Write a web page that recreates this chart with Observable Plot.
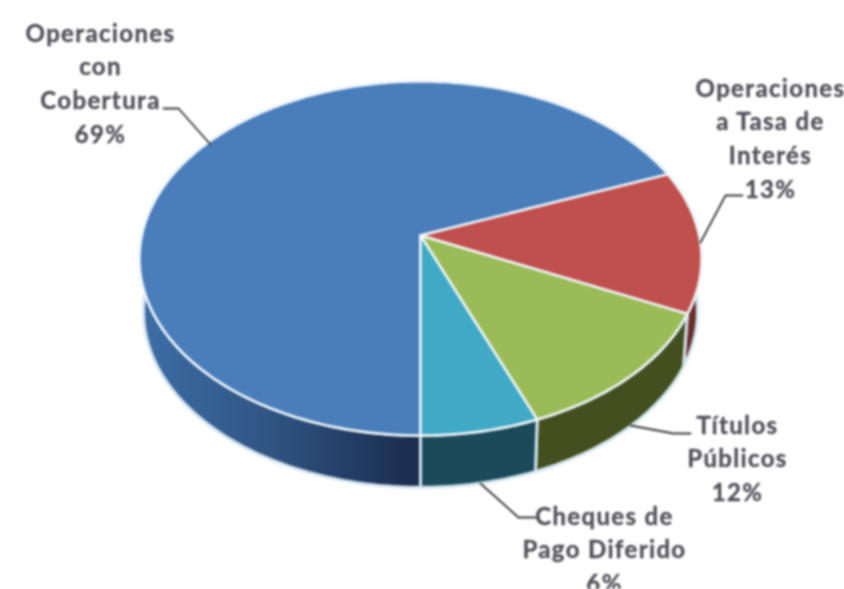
<!DOCTYPE html>
<html><head><meta charset="utf-8">
<style>html,body{margin:0;padding:0;background:#fff;overflow:hidden}
svg{display:block;filter:blur(0.8px)}
svg text{letter-spacing:1.35px;stroke:#50505a;stroke-width:0.35px}</style>
<script src="https://cdn.jsdelivr.net/npm/d3@7"></script>
<script src="https://cdn.jsdelivr.net/npm/@observablehq/plot@0.6"></script>
</head><body><script>
const categories = ["Operaciones\ncon\nCobertura", "Operaciones\na Tasa de\nInterés", "Títulos\nPúblicos", "Cheques de\nPago Diferido"];
const shares = [69, 13, 12, 6];
const topColors = ["#4a7ebb", "#c0504d", "#9bbb59", "#40a9c6"];
const sideColors = ["url(#sideBlue)", "#6b2c2a", "#434f1e", "#1b4a5a"];

// layout of the tilted disc: apex position and half extents
const k = -0.13, W = 844, H = 589;
const topDisc = {x: 420, y: 235, sx: 278.6, sy: 174};
const baseDisc = {x: 420, y: 288, sx: 274.6, sy: 173};
const project = (d, deg) => {
  const a = deg * Math.PI / 180, u = Math.sin(a), v = -Math.cos(a), w = 1 + k * v;
  return {x: d.x + d.sx * u / w, y: d.y + d.sy * v / w};
};
const total = d3.sum(shares);
let acc = 180;
const slices = shares.map((s, i) => {
  const a0 = acc, a1 = acc + s / total * 360; acc = a1;
  const n = Math.max(8, Math.ceil(a1 - a0));
  const angles = d3.range(n + 1).map(j => a0 + (a1 - a0) * j / n);
  return {
    i,
    top: [{x: topDisc.x, y: topDisc.y}, ...angles.map(a => project(topDisc, a))],
    side: [...angles.map(a => project(topDisc, a)), ...angles.slice().reverse().map(a => project(baseDisc, a))]
  };
});
const labelLayout = [
  {x: 100, y: 81, leader: [[210, 144], [178, 108], [163, 108]]},
  {x: 770, y: 136, leader: [[700, 242], [725, 195], [742, 195]]},
  {x: 737, y: 456, leader: [[630, 425], [673, 433], [690, 433]]},
  {x: 604, y: 547, leader: [[480, 483], [518, 517], [535, 517]]}
];
const labels = categories.map((c, i) => ({text: `${c}\n${shares[i]}%`, ...labelLayout[i]}));

const defs = () => {
  const g = d3.create("svg:defs");
  const lg = g.append("linearGradient").attr("id", "sideBlue").attr("x1", "0").attr("x2", "1").attr("y1", "0").attr("y2", "0");
  lg.append("stop").attr("offset", "0").attr("stop-color", "#3d6ea6");
  lg.append("stop").attr("offset", "0.25").attr("stop-color", "#2f5482");
  lg.append("stop").attr("offset", "0.5").attr("stop-color", "#1c2f52");
  return g.node();
};

const sideMarks = slices.map(s => Plot.line(s.side, {
  x: "x", y: "y", curve: "linear-closed", fill: sideColors[s.i], stroke: "#d3e4ee", strokeWidth: 3
}));
const topMarks = slices.map(s => Plot.line(s.top, {
  x: "x", y: "y", curve: "linear-closed", fill: topColors[s.i], stroke: "#f1f8fb", strokeWidth: 2.4
}));

const chart = Plot.plot({
  width: W, height: H, margin: 0,
  x: {domain: [0, W], range: [0, W], axis: null},
  y: {domain: [0, H], range: [0, H], axis: null},
  style: {background: "#fff"},
  marks: [
    defs,
    ...sideMarks,
    ...topMarks,
    ...labels.map(l => Plot.line(l.leader, {x: d => d[0], y: d => d[1], stroke: "#3a3a3a", strokeWidth: 1.8})),
    Plot.text(labels, {
      x: "x", y: "y", text: "text", textAnchor: "middle", lineAnchor: "middle",
      lineHeight: 1.4, fontSize: 24, fontWeight: 700, fontFamily: "Lato, 'Open Sans', sans-serif",
      fill: "#50505a"
    })
  ]
});
document.body.append(chart);
</script></body></html>
